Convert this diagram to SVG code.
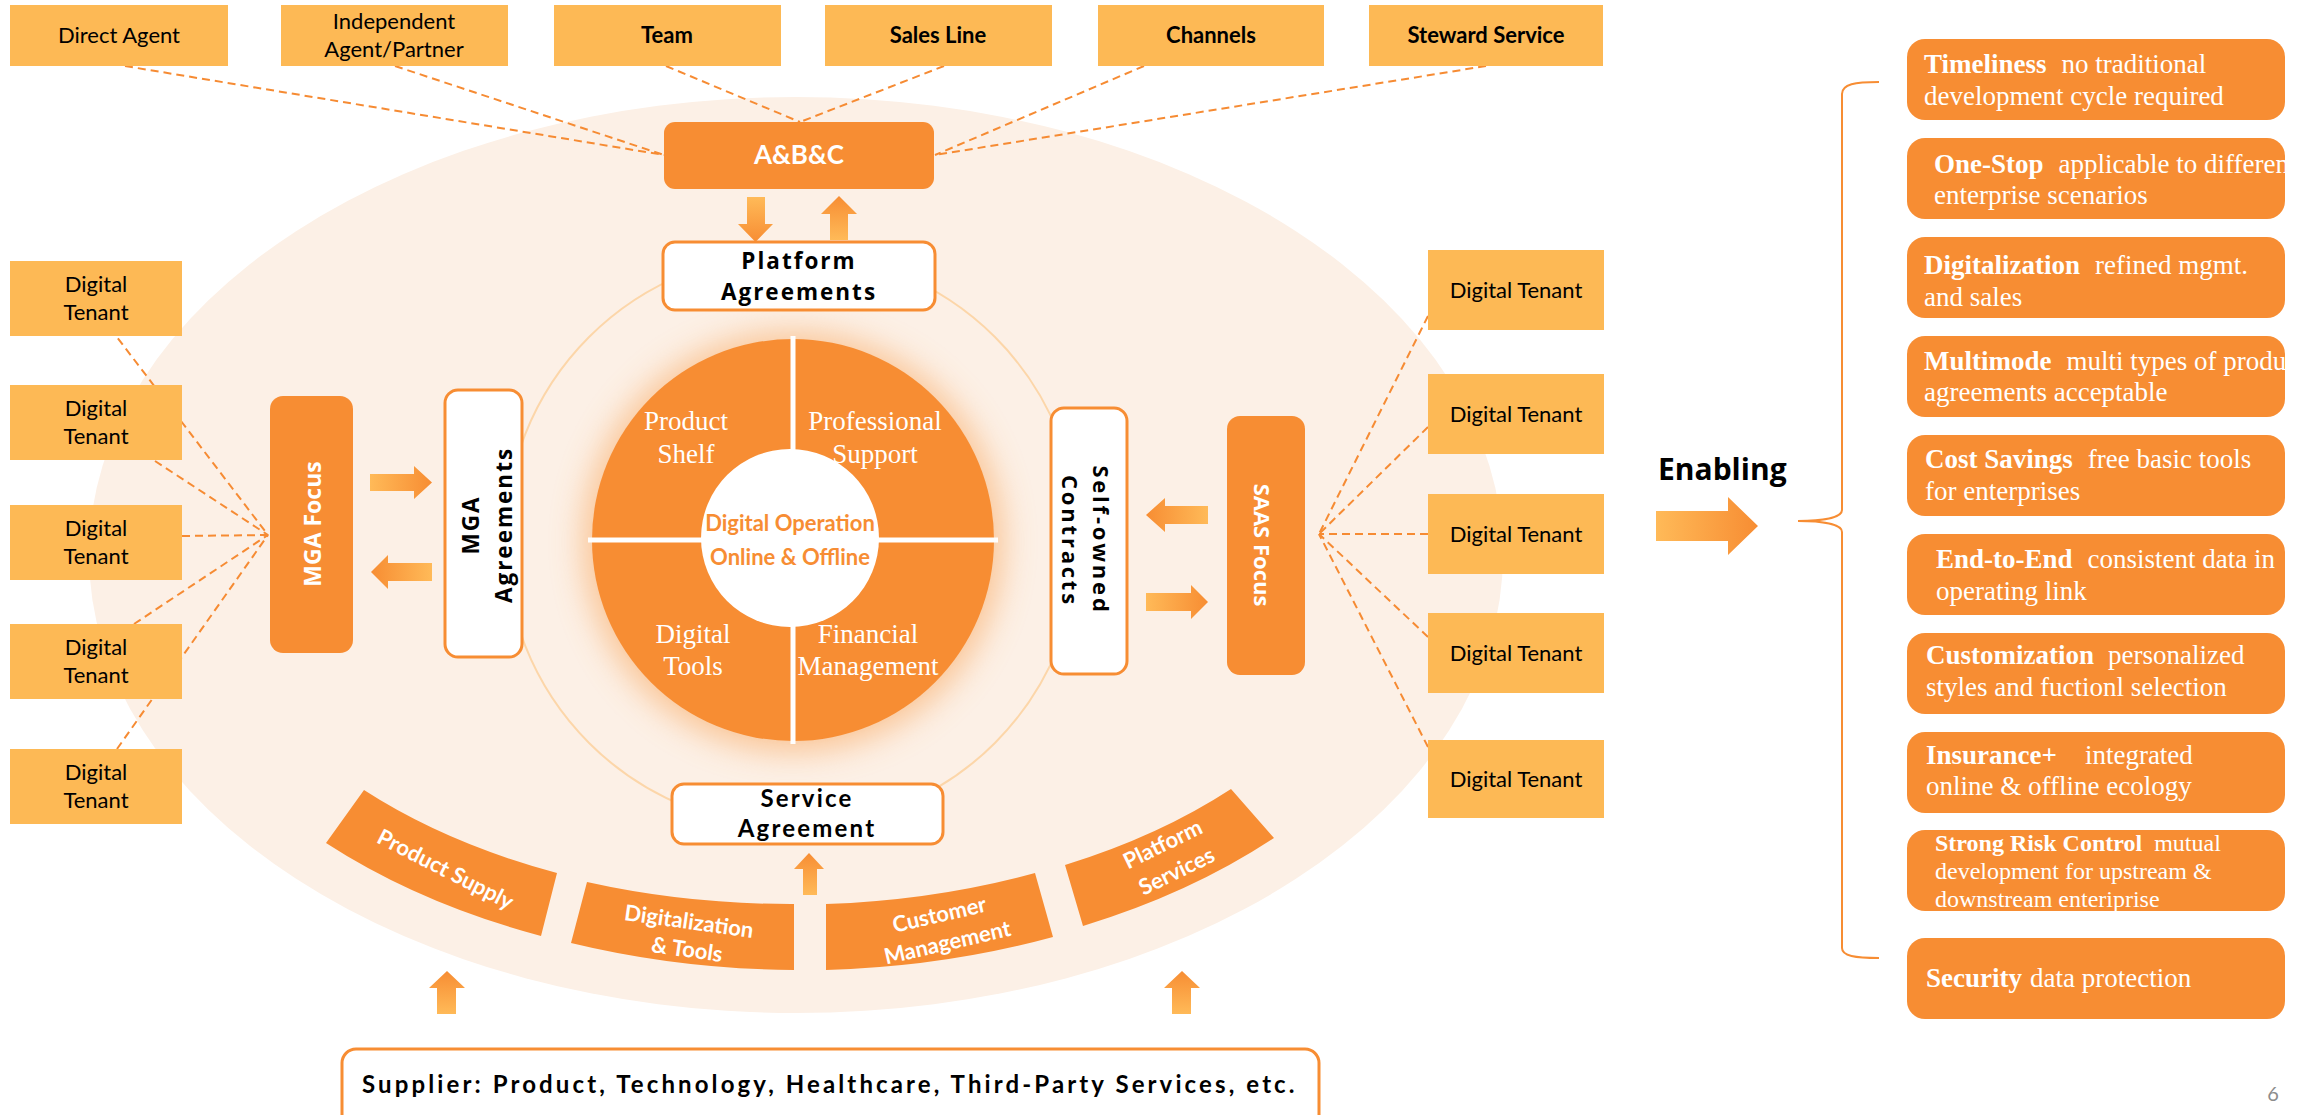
<svg xmlns="http://www.w3.org/2000/svg" width="2310" height="1115" viewBox="0 0 2310 1115">
  <style>
    .amber { fill: #FDB955; }
    .dark { fill: #F78D33; }
    .outline { fill: #FFFFFF; stroke: #F78D33; stroke-width: 3; }
    .dash { stroke: #F68B33; stroke-width: 2; stroke-dasharray: 8 5; fill: none; }
    .lt { font-family: Lato, "Liberation Sans", sans-serif; }
    .os { font-family: "Open Sans", "Liberation Sans", sans-serif; font-weight: bold; }
    .tb { font-size: 22px; fill: #000; text-anchor: middle; }
    .w { fill: #FFFFFF; }
    .b { font-weight: bold; }
    .mid { text-anchor: middle; }
    .wheel { font-family: "Liberation Serif", "Times New Roman", serif; font-size: 27px; fill: #FFFFFF; text-anchor: middle; }
    .seg { font-family: Lato, "Liberation Sans", sans-serif; font-weight: bold; font-size: 22px; fill: #FFFFFF; text-anchor: middle; }
    .ben { font-family: "Liberation Serif", "Times New Roman", serif; font-size: 27px; fill: #FFFFFF; }
    .ben.sm { font-size: 24px; }
  </style>
  <defs>
    <linearGradient id="gR" x1="0" y1="0" x2="1" y2="0"><stop offset="0" stop-color="#FFBA58"/><stop offset="1" stop-color="#F78D33"/></linearGradient>
    <linearGradient id="gL" x1="1" y1="0" x2="0" y2="0"><stop offset="0" stop-color="#FFBA58"/><stop offset="1" stop-color="#F78D33"/></linearGradient>
    <linearGradient id="gU" x1="0" y1="1" x2="0" y2="0"><stop offset="0" stop-color="#FFBA58"/><stop offset="1" stop-color="#F78D33"/></linearGradient>
    <linearGradient id="gD" x1="0" y1="0" x2="0" y2="1"><stop offset="0" stop-color="#FFBA58"/><stop offset="1" stop-color="#F78D33"/></linearGradient>
    <filter id="glow" x="-30%" y="-30%" width="160%" height="160%"><feGaussianBlur stdDeviation="16"/></filter>
    <clipPath id="c1"><rect x="1907" y="39" width="378" height="81" rx="18"/></clipPath>
    <clipPath id="c2"><rect x="1907" y="138" width="378" height="81" rx="18"/></clipPath>
    <clipPath id="c3"><rect x="1907" y="237" width="378" height="81" rx="18"/></clipPath>
    <clipPath id="c4"><rect x="1907" y="336" width="378" height="81" rx="18"/></clipPath>
    <clipPath id="c5"><rect x="1907" y="435" width="378" height="81" rx="18"/></clipPath>
    <clipPath id="c6"><rect x="1907" y="534" width="378" height="81" rx="18"/></clipPath>
    <clipPath id="c7"><rect x="1907" y="633" width="378" height="81" rx="18"/></clipPath>
    <clipPath id="c8"><rect x="1907" y="732" width="378" height="81" rx="18"/></clipPath>
    <clipPath id="c9"><rect x="1907" y="830" width="378" height="81" rx="18"/></clipPath>
    <clipPath id="c10"><rect x="1907" y="938" width="378" height="81" rx="18"/></clipPath>
  </defs>

  <rect width="2310" height="1115" fill="#FFFFFF"/>

  <!-- background field and inner ring -->
  <ellipse cx="796" cy="555" rx="707" ry="458" fill="#FCF0E6"/>
  <circle cx="792" cy="540" r="287" fill="none" stroke="#FCD6A9" stroke-width="2"/>

  <!-- connectors -->
  <g id="connectors">
    <line class="dash" x1="125" y1="66" x2="664" y2="155"/>
    <line class="dash" x1="395" y1="66" x2="664" y2="155"/>
    <line class="dash" x1="666" y1="66" x2="800" y2="122"/>
    <line class="dash" x1="944" y1="66" x2="800" y2="122"/>
    <line class="dash" x1="1144" y1="66" x2="935" y2="155"/>
    <line class="dash" x1="1486" y1="66" x2="935" y2="155"/>

    <line class="dash" x1="110" y1="328" x2="268" y2="535"/>
    <line class="dash" x1="155" y1="461" x2="268" y2="535"/>
    <line class="dash" x1="182" y1="536" x2="268" y2="535"/>
    <line class="dash" x1="134" y1="624" x2="268" y2="535"/>
    <line class="dash" x1="117" y1="749" x2="268" y2="535"/>

    <line class="dash" x1="1428" y1="316" x2="1319" y2="534"/>
    <line class="dash" x1="1428" y1="427" x2="1319" y2="534"/>
    <line class="dash" x1="1428" y1="534" x2="1319" y2="534"/>
    <line class="dash" x1="1428" y1="637" x2="1319" y2="534"/>
    <line class="dash" x1="1428" y1="747" x2="1319" y2="534"/>

    <path d="M747 197 H765 V224 H773 L755.5 242 L738 224 H747 Z" fill="url(#gD)"/>
    <path d="M830 240 V214 H821 L839 196 L857 214 H848 V240 Z" fill="url(#gU)"/>
    <path d="M370 474 H414 V466 L432 482.5 L414 499 V491 H370 Z" fill="url(#gR)"/>
    <path d="M432 563 H388 V555 L371 572 L388 589 V581 H432 Z" fill="url(#gL)"/>
    <path d="M1208 506 H1165 V498 L1146 515 L1165 532 V524 H1208 Z" fill="url(#gL)"/>
    <path d="M1146 593 H1191 V585 L1208 602 L1191 619 V611 H1146 Z" fill="url(#gR)"/>
    <path d="M803 895 V869 H794 L809 853 L824 869 H817 V895 Z" fill="url(#gU)"/>
    <path d="M437 1014 V988 H429 L447 971 L465 988 H456 V1014 Z" fill="url(#gU)"/>
    <path d="M1172 1014 V988 H1164 L1182 971 L1200 988 H1191 V1014 Z" fill="url(#gU)"/>
    <path d="M1656 511 H1728 V497 L1758 526 L1728 555 V541 H1656 Z" fill="url(#gR)"/>
    <path d="M1879 82 C1855 82 1842 84 1842 94 L1842 510 C1842 518 1822 521 1798 521 C1822 521 1842 524 1842 532 L1842 948 C1842 956 1855 958 1879 958" fill="none" stroke="#F78D33" stroke-width="2"/>
  </g>

  <!-- top channel nodes -->
  <g id="direct-agent"><rect class="amber" x="10" y="5" width="218" height="61"/><text class="lt tb" x="119" y="43">Direct Agent</text></g>
  <g id="independent-agent"><rect class="amber" x="281" y="5" width="227" height="61"/><text class="lt tb" x="394" y="29">Independent</text><text class="lt tb" x="394" y="57">Agent/Partner</text></g>
  <g id="team"><rect class="amber" x="554" y="5" width="227" height="61"/><text class="lt tb b" x="667" y="43">Team</text></g>
  <g id="sales-line"><rect class="amber" x="825" y="5" width="227" height="61"/><text class="lt tb b" x="938" y="43">Sales Line</text></g>
  <g id="channels"><rect class="amber" x="1098" y="5" width="226" height="61"/><text class="lt tb b" x="1211" y="43">Channels</text></g>
  <g id="steward-service"><rect class="amber" x="1369" y="5" width="234" height="61"/><text class="lt tb b" x="1486" y="43">Steward Service</text></g>

  <!-- hub -->
  <g id="abc"><rect class="dark" x="664" y="122" width="270" height="67" rx="11"/><text class="lt b w mid" x="799" y="164" font-size="26">A&amp;B&amp;C</text></g>
  <g id="platform-agreements"><rect class="outline" x="663" y="242" width="272" height="68" rx="12"/>
    <text class="os mid" x="799" y="269" font-size="22.5" letter-spacing="2">Platform</text>
    <text class="os mid" x="799" y="300" font-size="22.5" letter-spacing="2">Agreements</text></g>

  <!-- left tenants -->
  <g id="left-tenant-1"><rect class="amber" x="10" y="261" width="172" height="75"/><text class="lt tb" x="96" y="292">Digital</text><text class="lt tb" x="96" y="320">Tenant</text></g>
  <g id="left-tenant-2"><rect class="amber" x="10" y="385" width="172" height="75"/><text class="lt tb" x="96" y="416">Digital</text><text class="lt tb" x="96" y="444">Tenant</text></g>
  <g id="left-tenant-3"><rect class="amber" x="10" y="505" width="172" height="75"/><text class="lt tb" x="96" y="536">Digital</text><text class="lt tb" x="96" y="564">Tenant</text></g>
  <g id="left-tenant-4"><rect class="amber" x="10" y="624" width="172" height="75"/><text class="lt tb" x="96" y="655">Digital</text><text class="lt tb" x="96" y="683">Tenant</text></g>
  <g id="left-tenant-5"><rect class="amber" x="10" y="749" width="172" height="75"/><text class="lt tb" x="96" y="780">Digital</text><text class="lt tb" x="96" y="808">Tenant</text></g>

  <g id="mga-focus"><rect class="dark" x="270" y="396" width="83" height="257" rx="13"/><text class="os w mid" font-size="23" transform="translate(321 524) rotate(-90)">MGA Focus</text></g>
  <g id="mga-agreements"><rect class="outline" x="445" y="390" width="77" height="267" rx="13"/>
    <text class="os mid" font-size="22.5" letter-spacing="2" transform="translate(479 525) rotate(-90)">MGA</text>
    <text class="os mid" font-size="22.5" letter-spacing="2" transform="translate(512 525) rotate(-90)">Agreements</text></g>

  <!-- core wheel -->
  <g id="wheel">
    <circle cx="793" cy="542" r="210" fill="#F89A45" opacity="0.5" filter="url(#glow)"/>
    <circle cx="793" cy="540" r="201" fill="#F78D33"/>
    <line x1="793" y1="336" x2="793" y2="744" stroke="#FFFFFF" stroke-width="5"/>
    <line x1="588" y1="540" x2="998" y2="540" stroke="#FFFFFF" stroke-width="5"/>
    <circle cx="790" cy="538" r="89" fill="#FFFFFF"/>
    <text class="wheel" x="686" y="430">Product</text><text class="wheel" x="686" y="463">Shelf</text>
    <text class="wheel" x="875" y="430">Professional</text><text class="wheel" x="875" y="463">Support</text>
    <text class="wheel" x="693" y="643">Digital</text><text class="wheel" x="693" y="675">Tools</text>
    <text class="wheel" x="868" y="643">Financial</text><text class="wheel" x="868" y="675">Management</text>
    <text class="lt b mid" x="790" y="531" font-size="22" fill="#F78D33">Digital Operation</text>
    <text class="lt b mid" x="790" y="565" font-size="22" fill="#F78D33">Online &amp; Offline</text>
  </g>

  <!-- right side -->
  <g id="self-owned-contracts"><rect class="outline" x="1051" y="408" width="76" height="266" rx="13"/>
    <text class="os mid" font-size="22" letter-spacing="2.8" transform="translate(1093 540) rotate(90)">Self-owned</text>
    <text class="os mid" font-size="22" letter-spacing="2.8" transform="translate(1062 541) rotate(90)">Contracts</text></g>
  <g id="saas-focus"><rect class="dark" x="1227" y="416" width="78" height="259" rx="13"/><text class="os w mid" font-size="22" transform="translate(1254 545) rotate(90)">SAAS Focus</text></g>

  <g id="right-tenant-1"><rect class="amber" x="1428" y="250" width="176" height="80"/><text class="lt tb" x="1516" y="298">Digital Tenant</text></g>
  <g id="right-tenant-2"><rect class="amber" x="1428" y="374" width="176" height="80"/><text class="lt tb" x="1516" y="422">Digital Tenant</text></g>
  <g id="right-tenant-3"><rect class="amber" x="1428" y="494" width="176" height="80"/><text class="lt tb" x="1516" y="542">Digital Tenant</text></g>
  <g id="right-tenant-4"><rect class="amber" x="1428" y="613" width="176" height="80"/><text class="lt tb" x="1516" y="661">Digital Tenant</text></g>
  <g id="right-tenant-5"><rect class="amber" x="1428" y="740" width="176" height="78"/><text class="lt tb" x="1516" y="787">Digital Tenant</text></g>

  <!-- lower service ring -->
  <g id="service-agreement"><rect class="outline" x="672" y="784" width="271" height="60" rx="12"/>
    <text class="lt b mid" x="807" y="807" font-size="24" letter-spacing="2.2">Service</text>
    <text class="lt b mid" x="807" y="837" font-size="24" letter-spacing="2.2">Agreement</text></g>
  <g id="product-supply"><path class="dark" d="M364 790 A595 364 0 0 0 557 873 L541 936 A660 430 0 0 1 326 843 Z"/>
    <text class="seg" transform="translate(442 876) rotate(27)">Product Supply</text></g>
  <g id="digitalization-tools"><path class="dark" d="M587 882 A595 364 0 0 0 794 904 L794 970 A660 430 0 0 1 571 943 Z"/>
    <text class="seg" transform="translate(688 929) rotate(8)">Digitalization</text>
    <text class="seg" transform="translate(686 957) rotate(8)">&amp; Tools</text></g>
  <g id="customer-management"><path class="dark" d="M826 904 A595 364 0 0 0 1035 873 L1053 937 A660 430 0 0 1 826 970 Z"/>
    <text class="seg" transform="translate(941 922) rotate(-13)">Customer</text>
    <text class="seg" transform="translate(949 950) rotate(-13)">Management</text></g>
  <g id="platform-services"><path class="dark" d="M1065 865 A595 364 0 0 0 1231 789 L1274 838 A660 430 0 0 1 1083 926 Z"/>
    <text class="seg" transform="translate(1166 851) rotate(-26)">Platform</text>
    <text class="seg" transform="translate(1180 878) rotate(-26)">Services</text></g>

  <g id="supplier"><rect class="outline" x="342" y="1049" width="977" height="100" rx="14"/>
    <text class="lt b" x="362" y="1093" font-size="24" letter-spacing="1.5" textLength="934">Supplier: Product, Technology, Healthcare, Third-Party Services, etc.</text></g>

  <!-- enabling column -->
  <g id="enabling"><text class="os" x="1658" y="480" font-size="30" fill="#000">Enabling</text></g>

  <g id="timeliness"><rect class="dark" x="1907" y="39" width="378" height="81" rx="18"/>
    <g clip-path="url(#c1)"><text class="ben" x="1924" y="73"><tspan class="b">Timeliness</tspan><tspan dx="15">no traditional</tspan></text><text class="ben" x="1924" y="105">development cycle required</text></g></g>
  <g id="one-stop"><rect class="dark" x="1907" y="138" width="378" height="81" rx="18"/>
    <g clip-path="url(#c2)"><text class="ben" x="1934" y="173"><tspan class="b">One-Stop</tspan><tspan dx="15">applicable to different</tspan></text><text class="ben" x="1934" y="204">enterprise scenarios</text></g></g>
  <g id="digitalization"><rect class="dark" x="1907" y="237" width="378" height="81" rx="18"/>
    <g clip-path="url(#c3)"><text class="ben" x="1924" y="274"><tspan class="b">Digitalization</tspan><tspan dx="15">refined mgmt.</tspan></text><text class="ben" x="1924" y="306">and sales</text></g></g>
  <g id="multimode"><rect class="dark" x="1907" y="336" width="378" height="81" rx="18"/>
    <g clip-path="url(#c4)"><text class="ben" x="1924" y="370"><tspan class="b">Multimode</tspan><tspan dx="15">multi types of product</tspan></text><text class="ben" x="1924" y="401">agreements acceptable</text></g></g>
  <g id="cost-savings"><rect class="dark" x="1907" y="435" width="378" height="81" rx="18"/>
    <g clip-path="url(#c5)"><text class="ben" x="1925" y="468"><tspan class="b">Cost Savings</tspan><tspan dx="15">free basic tools</tspan></text><text class="ben" x="1925" y="500">for enterprises</text></g></g>
  <g id="end-to-end"><rect class="dark" x="1907" y="534" width="378" height="81" rx="18"/>
    <g clip-path="url(#c6)"><text class="ben" x="1936" y="568"><tspan class="b">End-to-End</tspan><tspan dx="15">consistent data in</tspan></text><text class="ben" x="1936" y="600">operating link</text></g></g>
  <g id="customization"><rect class="dark" x="1907" y="633" width="378" height="81" rx="18"/>
    <g clip-path="url(#c7)"><text class="ben" x="1926" y="664"><tspan class="b">Customization</tspan><tspan dx="14">personalized</tspan></text><text class="ben" x="1926" y="696">styles and fuctionl selection</text></g></g>
  <g id="insurance-plus"><rect class="dark" x="1907" y="732" width="378" height="81" rx="18"/>
    <g clip-path="url(#c8)"><text class="ben" x="1926" y="764"><tspan class="b">Insurance+</tspan><tspan dx="28">integrated</tspan></text><text class="ben" x="1926" y="795">online &amp; offline ecology</text></g></g>
  <g id="risk-control"><rect class="dark" x="1907" y="830" width="378" height="81" rx="18"/>
    <g clip-path="url(#c9)"><text class="ben sm" x="1935" y="851"><tspan class="b">Strong Risk Control</tspan><tspan dx="12">mutual</tspan></text><text class="ben sm" x="1935" y="879">development for upstream &amp;</text><text class="ben sm" x="1935" y="907">downstream enteriprise</text></g></g>
  <g id="security"><rect class="dark" x="1907" y="938" width="378" height="81" rx="18"/>
    <g clip-path="url(#c10)"><text class="ben" x="1926" y="987"><tspan class="b">Security</tspan><tspan dx="8">data protection</tspan></text></g></g>

  <text class="lt mid" x="2273" y="1101" font-size="20" fill="#8C8C8C">6</text>
</svg>
